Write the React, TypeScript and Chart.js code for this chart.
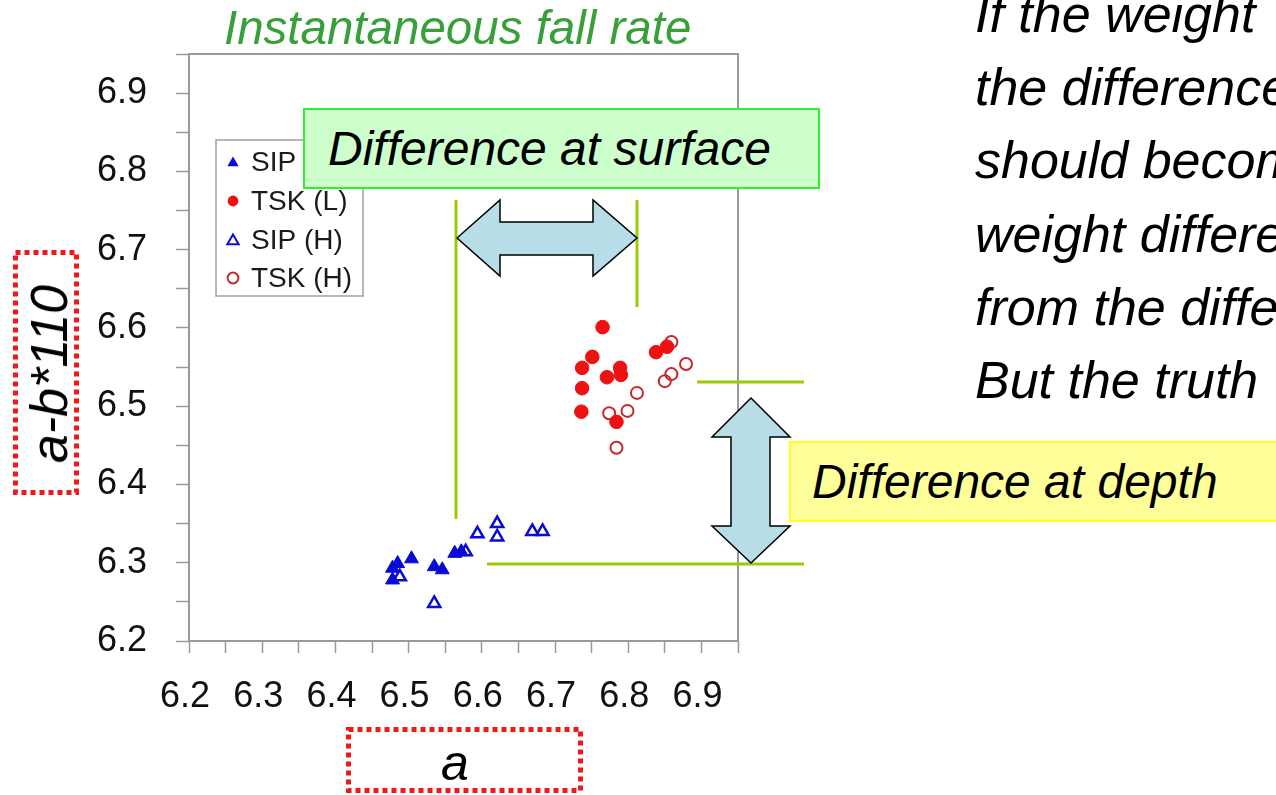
import React, { useEffect, useRef } from 'react';
import { Chart, registerables } from 'chart.js';

Chart.register(...registerables);

// ---- Axis ticks ----
const tickValues = [6.2, 6.25, 6.3, 6.35, 6.4, 6.45, 6.5, 6.55, 6.6, 6.65, 6.7, 6.75, 6.8, 6.85, 6.9, 6.95];
const tickLabels = ['6.2', '', '6.3', '', '6.4', '', '6.5', '', '6.6', '', '6.7', '', '6.8', '', '6.9', ''];
const axisMin = 6.2;
const axisMax = 6.95;

// ---- Series ----
const seriesNames = ['SIP', 'TSK (L)', 'SIP (H)', 'TSK (H)'];

const sipA = [6.478, 6.485, 6.478, 6.504, 6.535, 6.546, 6.563, 6.572];
const sipB = [6.293, 6.299, 6.278, 6.305, 6.295, 6.291, 6.312, 6.314];

const tskLA = [6.765, 6.751, 6.737, 6.737, 6.736, 6.771, 6.789, 6.790, 6.784, 6.838, 6.853];
const tskLB = [6.601, 6.563, 6.549, 6.523, 6.493, 6.537, 6.549, 6.540, 6.480, 6.569, 6.576];

const sipHA = [6.488, 6.535, 6.578, 6.594, 6.621, 6.621, 6.669, 6.683];
const sipHB = [6.282, 6.248, 6.314, 6.337, 6.350, 6.333, 6.340, 6.340];

const tskHA = [6.859, 6.879, 6.859, 6.850, 6.812, 6.799, 6.774, 6.784];
const tskHB = [6.582, 6.554, 6.541, 6.532, 6.517, 6.494, 6.491, 6.447];

const BLUE = '#0a0ad8';
const RED = '#ee1111';
const RED_OPEN = '#c8282c';
const FONT = "'Liberation Sans', Arial, Helvetica, sans-serif";

const toPoints = (xs: number[], ys: number[]) => xs.map((x, i) => ({ x, y: ys[i] }));

function drawTriangle(ctx: CanvasRenderingContext2D, x: number, y: number, r: number) {
  ctx.beginPath();
  for (let k = 0; k < 3; k++) {
    const a = (k * 2 * Math.PI) / 3;
    const px = x + Math.sin(a) * r;
    const py = y - Math.cos(a) * r;
    if (k === 0) ctx.moveTo(px, py);
    else ctx.lineTo(px, py);
  }
  ctx.closePath();
}

const framePlugin = {
  id: 'frame',
  beforeDatasetsDraw(chart: any) {
    const { ctx, chartArea } = chart;
    ctx.save();
    ctx.strokeStyle = '#9a9a9a';
    ctx.lineWidth = 2;
    ctx.strokeRect(chartArea.left, chartArea.top, chartArea.right - chartArea.left, chartArea.bottom - chartArea.top);
    ctx.restore();
  },
};

const insideLegendPlugin = {
  id: 'insideLegend',
  afterDatasetsDraw(chart: any) {
    const { ctx } = chart;
    const bx = 216, by = 140, bw = 147, bh = 156;
    ctx.save();
    ctx.fillStyle = '#ffffff';
    ctx.fillRect(bx, by, bw, bh);
    ctx.strokeStyle = '#a0a0a0';
    ctx.lineWidth = 1.5;
    ctx.strokeRect(bx, by, bw, bh);
    const rows = [162, 201, 240, 278];
    chart.data.datasets.forEach((ds: any, i: number) => {
      const y = rows[i];
      const mx = 233;
      ctx.lineWidth = 2;
      if (ds.pointStyle === 'triangle') {
        drawTriangle(ctx, mx, y + 1, 6.5);
      } else {
        ctx.beginPath();
        ctx.arc(mx, y, 5.4, 0, Math.PI * 2);
      }
      if (ds.filled) {
        ctx.fillStyle = ds.borderColor;
        ctx.fill();
      } else {
        ctx.strokeStyle = ds.borderColor;
        ctx.stroke();
      }
      ctx.fillStyle = '#1a1a1a';
      ctx.font = `28px ${FONT}`;
      ctx.textBaseline = 'middle';
      ctx.textAlign = 'left';
      ctx.fillText(ds.label, 251, y + 1);
    });
    ctx.restore();
  },
};

const annotationPlugin = {
  id: 'annotations',
  afterDraw(chart: any) {
    const { ctx } = chart;
    ctx.save();
    // green guide lines
    ctx.strokeStyle = '#99cc00';
    ctx.lineWidth = 3;
    ctx.beginPath();
    ctx.moveTo(456, 200); ctx.lineTo(456, 519);
    ctx.moveTo(637, 200); ctx.lineTo(637, 307);
    ctx.moveTo(697, 382); ctx.lineTo(804, 382);
    ctx.moveTo(487, 564); ctx.lineTo(804, 564);
    ctx.stroke();

    // horizontal double arrow
    ctx.fillStyle = '#b7dde8';
    ctx.strokeStyle = '#000000';
    ctx.lineWidth = 1.5;
    ctx.lineJoin = 'miter';
    ctx.beginPath();
    ctx.moveTo(457, 238);
    ctx.lineTo(500, 200);
    ctx.lineTo(500, 222);
    ctx.lineTo(593, 222);
    ctx.lineTo(593, 200);
    ctx.lineTo(637, 238);
    ctx.lineTo(593, 276);
    ctx.lineTo(593, 255);
    ctx.lineTo(500, 255);
    ctx.lineTo(500, 276);
    ctx.closePath();
    ctx.fill();
    ctx.stroke();

    // vertical double arrow
    ctx.beginPath();
    ctx.moveTo(751, 398);
    ctx.lineTo(790, 437);
    ctx.lineTo(770, 437);
    ctx.lineTo(770, 526);
    ctx.lineTo(790, 526);
    ctx.lineTo(751, 563);
    ctx.lineTo(712, 526);
    ctx.lineTo(731, 526);
    ctx.lineTo(731, 437);
    ctx.lineTo(712, 437);
    ctx.closePath();
    ctx.fill();
    ctx.stroke();

    // red dotted boxes around axis titles
    ctx.strokeStyle = '#f01818';
    ctx.lineWidth = 5;
    ctx.lineCap = 'butt';
    ctx.setLineDash([5, 4]);
    ctx.strokeRect(15.5, 252.5, 61, 240);
    ctx.strokeRect(348.5, 729.5, 232, 61);
    ctx.restore();
  },
};

export default function App() {
  const canvasRef = useRef<HTMLCanvasElement | null>(null);

  useEffect(() => {
    const canvas = canvasRef.current;
    if (!canvas) return;
    const tickFont = { family: FONT, size: 36 };
    const chart = new Chart(canvas, {
      type: 'scatter',
      data: {
        datasets: [
          {
            label: seriesNames[0],
            data: toPoints(sipA, sipB),
            pointStyle: 'triangle',
            pointRadius: 8,
            backgroundColor: BLUE,
            borderColor: BLUE,
            borderWidth: 1,
            filled: true,
          } as any,
          {
            label: seriesNames[1],
            data: toPoints(tskLA, tskLB),
            pointStyle: 'circle',
            pointRadius: 6.8,
            backgroundColor: RED,
            borderColor: RED,
            borderWidth: 1,
            filled: true,
          } as any,
          {
            label: seriesNames[2],
            data: toPoints(sipHA, sipHB),
            pointStyle: 'triangle',
            pointRadius: 7,
            backgroundColor: 'rgba(255,255,255,0)',
            borderColor: BLUE,
            borderWidth: 2.5,
            filled: false,
          } as any,
          {
            label: seriesNames[3],
            data: toPoints(tskHA, tskHB),
            pointStyle: 'circle',
            pointRadius: 6,
            backgroundColor: 'rgba(255,255,255,0)',
            borderColor: RED_OPEN,
            borderWidth: 2,
            filled: false,
          } as any,
        ],
      },
      options: {
        animation: false,
        responsive: false,
        devicePixelRatio: 1,
        layout: { padding: { left: 0, right: 538, top: 54, bottom: 0 } },
        plugins: {
          legend: { display: false },
          tooltip: { enabled: false },
          title: { display: false },
        },
        scales: {
          x: {
            type: 'linear',
            min: axisMin,
            max: axisMax,
            afterBuildTicks: (scale: any) => {
              scale.ticks = tickValues.map((v) => ({ value: v }));
            },
            afterFit: (scale: any) => {
              scale.height = 154;
            },
            grid: {
              display: true,
              drawOnChartArea: false,
              drawTicks: true,
              tickLength: 12,
              tickColor: '#9a9a9a',
              tickWidth: 1.5,
            },
            border: { display: false },
            ticks: {
              autoSkip: false,
              maxRotation: 0,
              padding: 22,
              labelOffset: -4,
              color: '#111111',
              font: tickFont,
              callback: (_v: any, i: number) => tickLabels[i] ?? '',
            },
          },
          y: {
            type: 'linear',
            min: axisMin,
            max: axisMax,
            afterBuildTicks: (scale: any) => {
              scale.ticks = tickValues.map((v) => ({ value: v }));
            },
            afterFit: (scale: any) => {
              scale.width = 189;
            },
            grid: {
              display: true,
              drawOnChartArea: false,
              drawTicks: true,
              tickLength: 13,
              tickColor: '#9a9a9a',
              tickWidth: 1.5,
            },
            border: { display: false },
            ticks: {
              autoSkip: false,
              padding: 29,
              color: '#111111',
              font: tickFont,
              callback: (_v: any, i: number) => tickLabels[i] ?? '',
            },
          },
        },
      } as any,
      plugins: [framePlugin, insideLegendPlugin, annotationPlugin],
    });
    return () => chart.destroy();
  }, []);

  const italic = (size: number): React.CSSProperties => ({
    fontFamily: FONT,
    fontStyle: 'italic',
    fontSize: size,
  });

  const paragraph = [
    'If the weight',
    'the difference',
    'should become',
    'weight difference',
    'from the difference',
    'But the truth',
  ];

  return (
    <div
      style={{
        position: 'absolute',
        left: 0,
        top: 0,
        width: 1276,
        height: 795,
        overflow: 'hidden',
        background: '#ffffff',
      }}
    >
      <canvas ref={canvasRef} width={1276} height={795} style={{ display: 'block', position: 'absolute', left: 0, top: 0 }} />

      <div
        style={{
          ...italic(47.5),
          position: 'absolute',
          left: 224,
          top: 4,
          lineHeight: 1,
          color: '#38a038',
          whiteSpace: 'nowrap',
        }}
      >
        Instantaneous fall rate
      </div>

      <div
        style={{
          ...italic(52),
          position: 'absolute',
          left: 975,
          top: -22,
          lineHeight: '73.2px',
          color: '#000000',
          whiteSpace: 'pre',
        }}
      >
        {paragraph.join('\n')}
      </div>

      <div
        style={{
          ...italic(48),
          position: 'absolute',
          left: 303,
          top: 108,
          width: 517,
          height: 81,
          boxSizing: 'border-box',
          background: '#ccffcc',
          border: '2px solid #33ee33',
          display: 'flex',
          alignItems: 'center',
          paddingLeft: 23,
          color: '#000000',
          whiteSpace: 'nowrap',
        }}
      >
        Difference at surface
      </div>

      <div
        style={{
          ...italic(48),
          position: 'absolute',
          left: 789,
          top: 441,
          width: 600,
          height: 81,
          boxSizing: 'border-box',
          background: '#ffff99',
          border: '2px solid #ffff22',
          display: 'flex',
          alignItems: 'center',
          paddingLeft: 21,
          color: '#000000',
          whiteSpace: 'nowrap',
        }}
      >
        Difference at depth
      </div>

      <div
        style={{
          ...italic(52),
          position: 'absolute',
          left: 49,
          top: 374,
          lineHeight: 1,
          transform: 'translate(-50%, -50%) rotate(-90deg)',
          whiteSpace: 'nowrap',
          color: '#000000',
        }}
      >
        a-b*110
      </div>

      <div
        style={{
          ...italic(50),
          position: 'absolute',
          left: 455,
          top: 738,
          lineHeight: 1,
          transform: 'translateX(-50%)',
          whiteSpace: 'nowrap',
          color: '#000000',
        }}
      >
        a
      </div>
    </div>
  );
}
